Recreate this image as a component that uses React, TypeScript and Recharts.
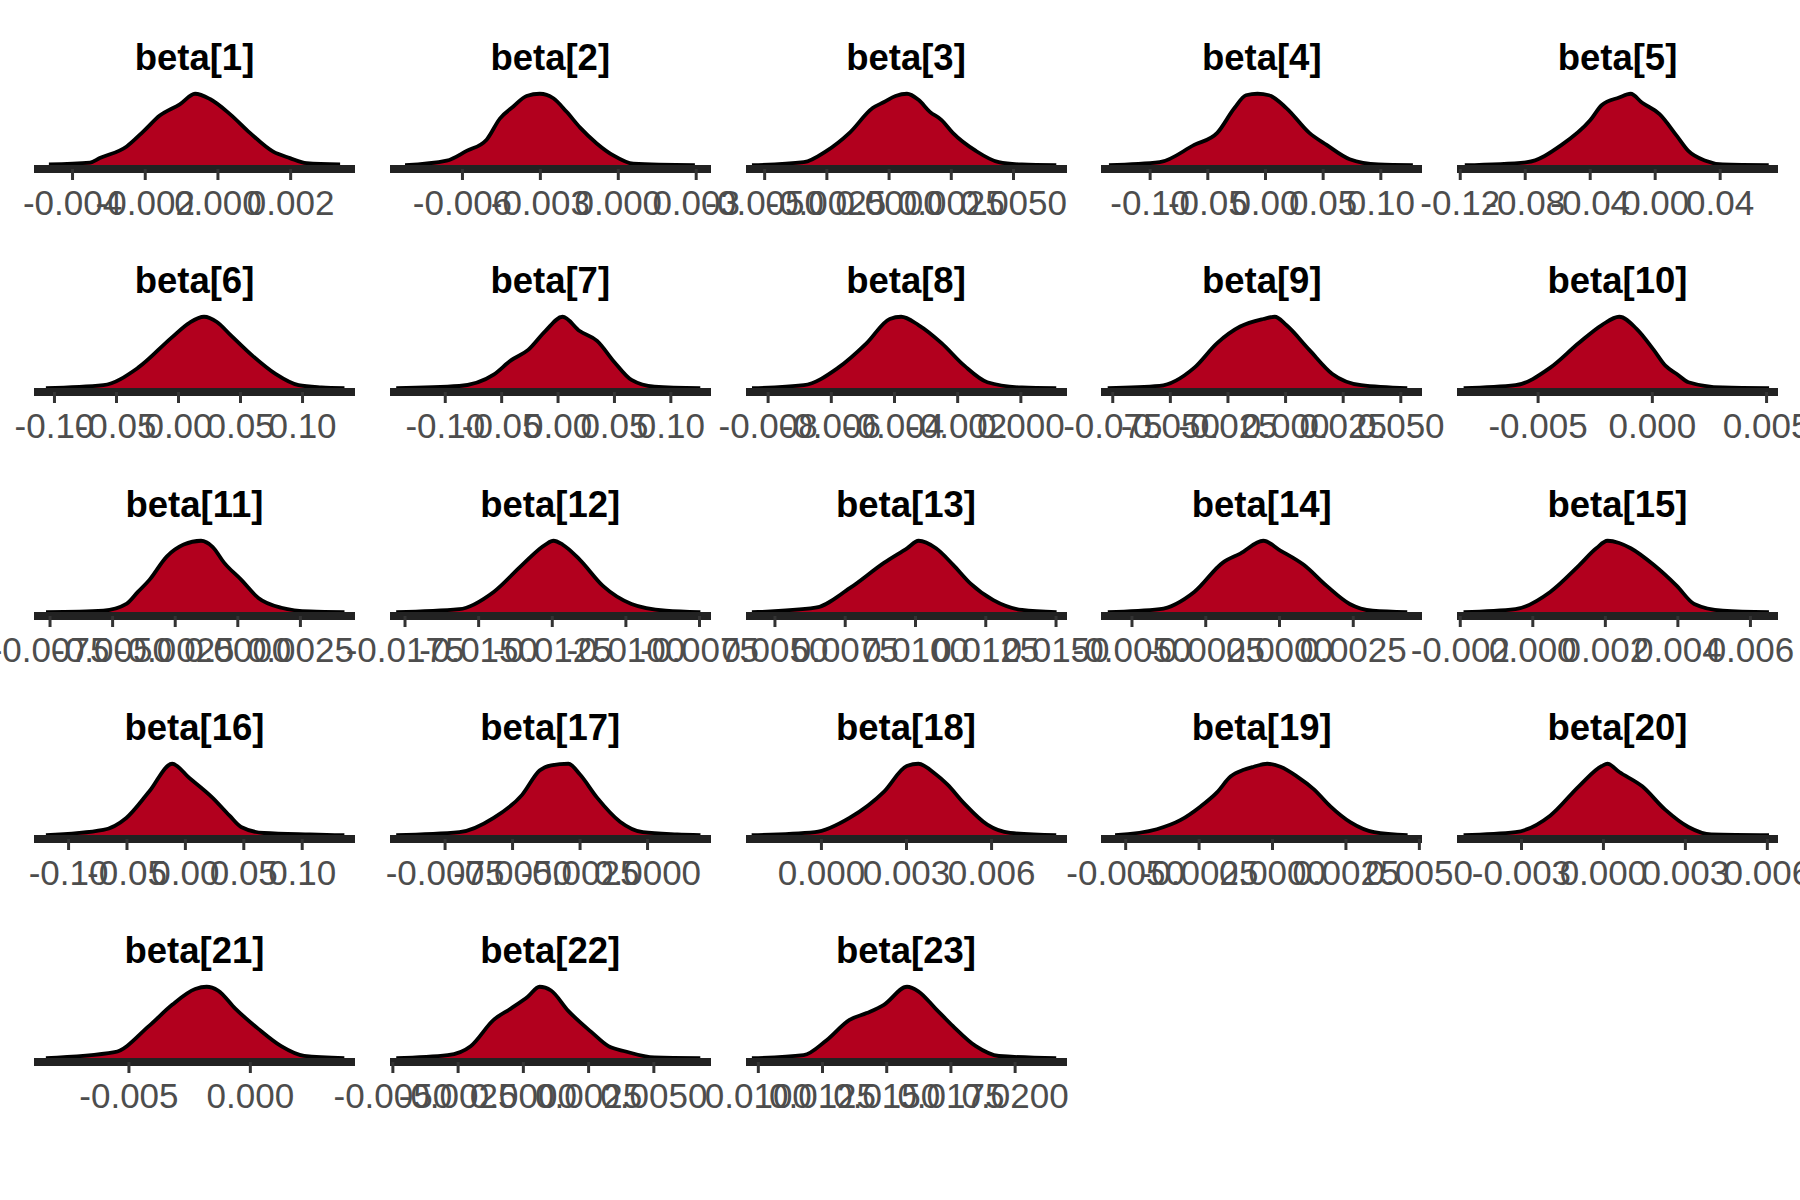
import React from 'react';
import { AreaChart, Area, XAxis, YAxis } from 'recharts';

// Parameter names (panel titles)
const parameterNames = [
  'beta[1]', 'beta[2]', 'beta[3]', 'beta[4]', 'beta[5]',
  'beta[6]', 'beta[7]', 'beta[8]', 'beta[9]', 'beta[10]',
  'beta[11]', 'beta[12]', 'beta[13]', 'beta[14]', 'beta[15]',
  'beta[16]', 'beta[17]', 'beta[18]', 'beta[19]', 'beta[20]',
  'beta[21]', 'beta[22]', 'beta[23]',
];

// Posterior density curves: [value, relative density]
const beta1 = [[-0.00465, 6], [-0.00352, 8.5], [-0.00325, 14.5], [-0.00251, 30], [-0.00205, 50], [-0.0016, 71], [-0.00105, 86], [-0.00063, 100], [-0.00022, 93], [0.00033, 73], [0.00088, 48], [0.00152, 23], [0.00198, 14.5], [0.00244, 7.7], [0.00336, 6]];
const beta2 = [[-0.00821, 5], [-0.00661, 11], [-0.00584, 24], [-0.00507, 39], [-0.00456, 67], [-0.00404, 83], [-0.00353, 97], [-0.00302, 100], [-0.0025, 94], [-0.00199, 76], [-0.00147, 55], [-0.00083, 34], [-0.00019, 18], [0.00058, 7], [0.00295, 5]];
const beta3 = [[-0.00551, 5], [-0.00343, 9], [-0.00251, 24], [-0.00159, 48], [-0.00066, 81], [-0.0002, 89], [0.00026, 97], [0.00072, 100], [0.00118, 92], [0.00164, 76], [0.00211, 65], [0.00256, 48], [0.00349, 24], [0.00441, 9], [0.00533, 6], [0.00672, 5]];
const beta4 = [[-0.1357, 5], [-0.0917, 9], [-0.0618, 32], [-0.0418, 48], [-0.0269, 81], [-0.0169, 98], [-0.0069, 100], [0.003, 98], [0.0181, 81], [0.038, 48], [0.053, 32], [0.073, 13], [0.0979, 6], [0.1278, 5]];
const beta5 = [[-0.1172, 5], [-0.0789, 9], [-0.0576, 32], [-0.0399, 65], [-0.0328, 85], [-0.0222, 95], [-0.0151, 100], [-0.008, 88], [0.0027, 73], [0.0133, 44], [0.0204, 24], [0.031, 11], [0.0416, 6], [0.0699, 5]];
const beta6 = [[-0.1069, 5], [-0.0606, 9], [-0.0328, 32], [-0.0051, 73], [0.0088, 92], [0.0206, 100], [0.031, 93], [0.0412, 77], [0.0598, 48], [0.0782, 24], [0.0968, 9], [0.1152, 6], [0.1338, 5]];
const beta7 = [[-0.1435, 5], [-0.0876, 8], [-0.0571, 23], [-0.0418, 42], [-0.0265, 56], [-0.0113, 81], [0.004, 100], [0.0192, 81], [0.0346, 68], [0.0498, 40], [0.0651, 16], [0.0855, 7], [0.1261, 5]];
const beta8 = [[-0.00851, 5], [-0.00687, 9], [-0.00579, 32], [-0.00488, 65], [-0.00415, 97], [-0.00379, 100], [-0.00324, 89], [-0.00251, 65], [-0.00179, 35], [-0.00106, 13], [0.00003, 6], [0.00112, 5]];
const beta9 = [[-0.0772, 5], [-0.0547, 8], [-0.0397, 32], [-0.0297, 65], [-0.0197, 87], [-0.0097, 97], [-0.0047, 100], [0.0003, 89], [0.0103, 56], [0.0203, 24], [0.0328, 9], [0.0528, 5]];
const beta10 = [[-0.00826, 5], [-0.00599, 9], [-0.00448, 32], [-0.00322, 65], [-0.00221, 89], [-0.00145, 100], [-0.00069, 84], [0.00006, 56], [0.00057, 35], [0.00107, 24], [0.00158, 13], [0.00309, 6], [0.00511, 5]];
const beta11 = [[-0.00766, 5], [-0.00537, 7], [-0.00445, 16], [-0.00399, 32], [-0.00353, 48], [-0.00284, 79], [-0.00216, 95], [-0.00147, 100], [-0.00101, 92], [-0.00055, 71], [0.00014, 48], [0.00082, 24], [0.00174, 11], [0.00289, 6], [0.00426, 5]];
const beta12 = [[-0.0178, 5], [-0.01566, 9], [-0.01449, 32], [-0.01352, 68], [-0.01273, 95], [-0.01246, 100], [-0.01215, 95], [-0.01157, 75], [-0.01078, 40], [-0.00981, 16], [-0.00864, 7], [-0.00747, 5]];
const beta13 = [[0.00418, 5], [0.00644, 11], [0.00766, 37], [0.00889, 71], [0.0097, 90], [0.01011, 100], [0.01073, 90], [0.01134, 68], [0.01196, 43], [0.01277, 21], [0.01379, 8], [0.01502, 5]];
const beta14 = [[-0.00582, 5], [-0.00406, 9], [-0.00289, 32], [-0.00192, 71], [-0.00133, 83], [-0.00055, 100], [0.00003, 87], [0.00082, 68], [0.0016, 40], [0.00238, 16], [0.00316, 7], [0.00433, 5]];
const beta15 = [[-0.00191, 5], [-0.00048, 9], [0.00048, 32], [0.00127, 67], [0.00175, 90], [0.00206, 100], [0.00238, 97], [0.0027, 90], [0.00333, 68], [0.00397, 40], [0.00445, 16], [0.00524, 7], [0.00651, 5]];
const beta16 = [[-0.1194, 5], [-0.0703, 12], [-0.0506, 28], [-0.031, 63], [-0.0113, 100], [0.0034, 81], [0.0231, 55], [0.0378, 31], [0.0477, 16], [0.0673, 8], [0.1067, 6], [0.1361, 5]];
const beta17 = [[-0.00931, 5], [-0.00697, 9], [-0.0057, 28], [-0.00464, 59], [-0.004, 91], [-0.00357, 98], [-0.00293, 100], [-0.00251, 86], [-0.00187, 55], [-0.00102, 23], [-0.00017, 9], [0.0011, 6], [0.00196, 5]];
const beta18 = [[-0.00246, 5], [-0.00023, 9], [0.00099, 28], [0.00221, 63], [0.00301, 97], [0.00342, 100], [0.00403, 86], [0.00443, 73], [0.00504, 47], [0.00585, 19], [0.00666, 8], [0.00828, 5]];
const beta19 = [[-0.00536, 5], [-0.00394, 13], [-0.00314, 25], [-0.00246, 43], [-0.00189, 62], [-0.00143, 83], [-0.00098, 92], [-0.00064, 96], [-0.00018, 100], [0.00027, 96], [0.00084, 83], [0.00141, 66], [0.00198, 43], [0.00266, 22], [0.00346, 9], [0.0046, 5]];
const beta20 = [[-0.00512, 5], [-0.00322, 9], [-0.00195, 31], [-0.0009, 70], [-0.00006, 97], [0.00015, 100], [0.00058, 89], [0.00142, 70], [0.00226, 39], [0.00311, 16], [0.00395, 6], [0.00606, 5]];
const beta21 = [[-0.00842, 5], [-0.00559, 13], [-0.00417, 48], [-0.00322, 76], [-0.00227, 97], [-0.0018, 100], [-0.00133, 95], [-0.00062, 71], [0.00033, 44], [0.00127, 21], [0.00222, 8], [0.00387, 5]];
const beta22 = [[-0.00487, 5], [-0.0029, 9], [-0.00202, 21], [-0.00114, 56], [-0.00048, 71], [0.00018, 87], [0.00062, 100], [0.00106, 95], [0.00172, 68], [0.0026, 40], [0.00326, 21], [0.00392, 14], [0.00502, 6], [0.00678, 5]];
const beta23 = [[0.00975, 5], [0.01176, 9], [0.01266, 29], [0.01355, 56], [0.01422, 65], [0.01489, 76], [0.01579, 100], [0.01623, 94], [0.0169, 71], [0.01757, 48], [0.01847, 21], [0.01937, 8], [0.0216, 5]];

const densities = [
  beta1, beta2, beta3, beta4, beta5, beta6, beta7, beta8, beta9, beta10,
  beta11, beta12, beta13, beta14, beta15, beta16, beta17, beta18, beta19, beta20,
  beta21, beta22, beta23,
];

// Axis limits per panel
const axisLimits = [
  [-0.00506, 0.00377], [-0.00879, 0.00357], [-0.00575, 0.00715], [-0.1426, 0.1357], [-0.122, 0.0756],
  [-0.1165, 0.1423], [-0.149, 0.1356], [-0.0087, 0.00146], [-0.0801, 0.0592], [-0.00855, 0.0055],
  [-0.00814, 0.00468], [-0.01801, -0.00711], [0.00397, 0.01539], [-0.00605, 0.00483], [-0.00209, 0.00676],
  [-0.1296, 0.1452], [-0.00954, 0.00235], [-0.00266, 0.00866], [-0.00584, 0.00509], [-0.00536, 0.00639],
  [-0.00891, 0.00431], [-0.00511, 0.00719], [0.00952, 0.02202],
];

// Tick values per panel
const tickValues = [
  [-0.004, -0.002, 0, 0.002],
  [-0.006, -0.003, 0, 0.003],
  [-0.005, -0.0025, 0, 0.0025, 0.005],
  [-0.1, -0.05, 0, 0.05, 0.1],
  [-0.12, -0.08, -0.04, 0, 0.04],
  [-0.1, -0.05, 0, 0.05, 0.1],
  [-0.1, -0.05, 0, 0.05, 0.1],
  [-0.008, -0.006, -0.004, -0.002, 0],
  [-0.075, -0.05, -0.025, 0, 0.025, 0.05],
  [-0.005, 0, 0.005],
  [-0.0075, -0.005, -0.0025, 0, 0.0025],
  [-0.0175, -0.015, -0.0125, -0.01, -0.0075],
  [0.005, 0.0075, 0.01, 0.0125, 0.015],
  [-0.005, -0.0025, 0, 0.0025],
  [-0.002, 0, 0.002, 0.004, 0.006],
  [-0.1, -0.05, 0, 0.05, 0.1],
  [-0.0075, -0.005, -0.0025, 0],
  [0, 0.003, 0.006],
  [-0.005, -0.0025, 0, 0.0025, 0.005],
  [-0.003, 0, 0.003, 0.006],
  [-0.005, 0],
  [-0.005, -0.0025, 0, 0.0025, 0.005],
  [0.01, 0.0125, 0.015, 0.0175, 0.02],
];

// Decimal places of the tick labels per panel
const tickDecimals = [3, 3, 4, 2, 2, 2, 2, 3, 3, 3, 4, 4, 4, 4, 3, 2, 4, 3, 4, 3, 3, 4, 4];

const FONT = '"Liberation Sans", Arial, Helvetica, sans-serif';
const FILL = '#B2001E';

const PANEL_W = 321;
const PLOT_H = 79;
const SIDE = 60;
const COL_STEP = 355.75;
const ROW_STEP = 223.25;

function Panel({ idx }: { idx: number }) {
  const col = idx % 5;
  const row = Math.floor(idx / 5);
  const left = 34 + COL_STEP * col;
  const axisY = 169 + ROW_STEP * row;
  const data = densities[idx].map(([x, y]) => ({ x, y }));
  const dec = tickDecimals[idx];
  return (
    <>
      <div
        style={{
          position: 'absolute',
          left,
          top: axisY - 129,
          width: PANEL_W,
          textAlign: 'center',
          fontFamily: FONT,
          fontWeight: 'bold',
          fontSize: 36.5,
          lineHeight: '36.5px',
          color: '#000',
          whiteSpace: 'nowrap',
        }}
      >
        {parameterNames[idx]}
      </div>
      <div style={{ position: 'absolute', left: left - SIDE, top: axisY - PLOT_H - 5 }}>
        <AreaChart
          width={PANEL_W + 2 * SIDE}
          height={5 + PLOT_H + 50 + 5}
          data={data}
          margin={{ top: 5, right: SIDE, bottom: 5, left: SIDE }}
        >
          <YAxis hide domain={[0, 105]} type="number" />
          <Area
            dataKey="y"
            type="monotone"
            fill={FILL}
            fillOpacity={1}
            stroke="#000000"
            strokeWidth={3.8}
            isAnimationActive={false}
            dot={false}
            activeDot={false}
          />
          <XAxis
            dataKey="x"
            type="number"
            domain={axisLimits[idx]}
            allowDataOverflow
            ticks={tickValues[idx]}
            interval={0}
            height={50}
            tickFormatter={(v: number) => v.toFixed(dec)}
            axisLine={{ stroke: '#222222', strokeWidth: 8 }}
            tickLine={{ stroke: '#333333', strokeWidth: 3 }}
            tickSize={11}
            tickMargin={10}
            tick={{ fill: '#4D4D4D', fontSize: 35, fontFamily: FONT }}
          />
        </AreaChart>
      </div>
    </>
  );
}

export default function App() {
  return (
    <div
      style={{
        position: 'absolute',
        left: 0,
        top: 0,
        width: 1800,
        height: 1200,
        background: '#ffffff',
        overflow: 'hidden',
      }}
    >
      {parameterNames.map((_, i) => (
        <Panel key={i} idx={i} />
      ))}
    </div>
  );
}
